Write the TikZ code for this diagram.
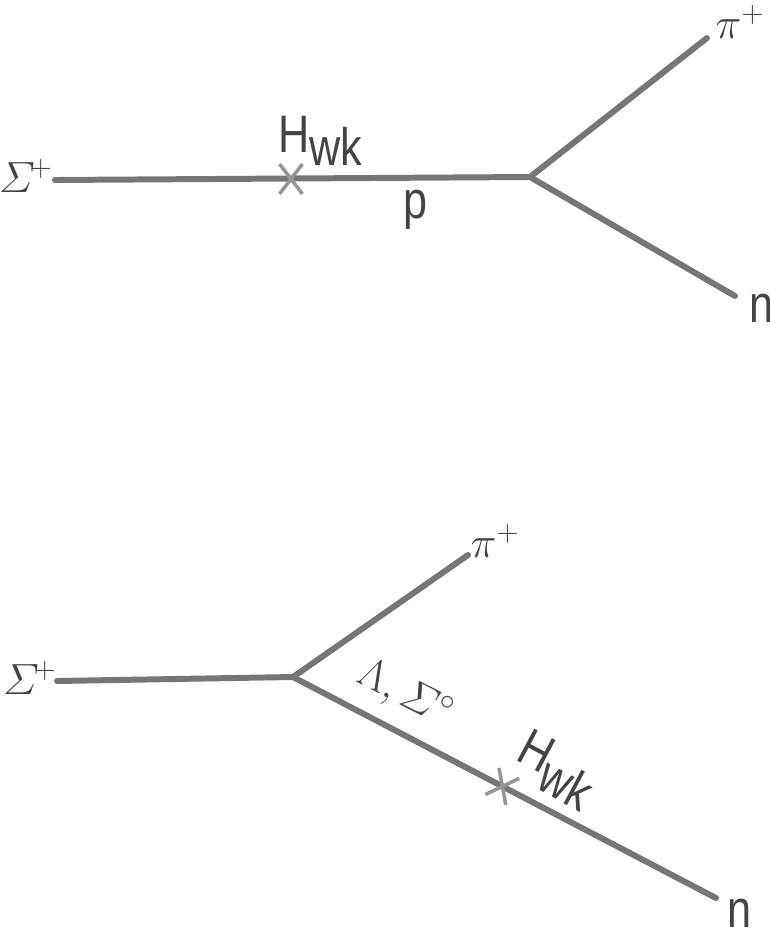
\documentclass[tikz,border=0pt]{standalone}
\usepackage{amsmath, amssymb}
\usepackage{fontspec}
\newfontfamily\labelfont[FakeStretch=0.82]{Liberation Sans}
\usepackage{tikz}
\usetikzlibrary{shapes.misc, calc}
\definecolor{lineGray}{RGB}{118, 118, 118}
\definecolor{inkGray}{RGB}{68, 68, 68}
\definecolor{markGray}{RGB}{150, 150, 150}

\begin{document}
\begin{tikzpicture}[x=0.02cm, y=-0.02cm,
    prop/.style={line width=3.4pt, lineGray, line cap=round},
    lbl/.style={inkGray, inner sep=0pt, font=\labelfont\fontsize{30}{32}\selectfont},
    mlbl/.style={inkGray, inner sep=0pt, font=\fontsize{24}{27}\selectfont},
    wkmark/.style={cross out, draw=markGray, line width=2pt, minimum width=11pt, minimum height=15pt, inner sep=0pt}]
  \useasboundingbox (0,0) rectangle (770,930);

  % upper graph: weak vertex on the incoming line
  \coordinate (inA) at (55,180);
  \coordinate (vA) at (530,177);
  \coordinate (piA) at (707,38);
  \coordinate (nA) at (735,296);
  \node[mlbl, anchor=east] (sigA) at (53,176) {$\varSigma^{\!+}$};
  \node[mlbl] (piLblA) at (740,22) {$\pi^{+}$};
  \node[lbl, anchor=base] (nLblA) at (762,322) {n};
  \node[lbl, anchor=base west] (hwkA) at (278,152) {H\raisebox{-7.5pt}{wk}};
  \node[lbl, anchor=base] (pLbl) at (416,218) {p};
  \draw[prop] (inA) -- (vA) -- (piA);
  \draw[prop] (vA) -- (nA);
  \node[wkmark] (markA) at (291,179) {};

  % lower graph: weak vertex on the outgoing line
  \coordinate (inB) at (57,681);
  \coordinate (vB) at (293,677);
  \coordinate (piB) at (468,555);
  \coordinate (nB) at (716,898);
  \coordinate (wB) at ($(vB)!0.495!(nB)$);
  \node[mlbl, anchor=east] (sigB) at (57,678) {$\varSigma^{\!+}$};
  \node[mlbl] (piLblB) at (495,541) {$\pi^{+}$};
  \node[lbl, anchor=base] (nLblB) at (740,927) {n};
  \node[mlbl, rotate=-27] (lamLbl) at (405,695) {$\Lambda,\varSigma^{\circ}$};
  \node[lbl, rotate=-28] (hwkB) at (556,770) {H\raisebox{-9pt}{wk}};
  \draw[prop] (inB) -- (vB) -- (piB);
  \draw[prop] (vB) -- (nB);
  \node[wkmark, rotate=-27] (markB) at (wB) {};
\end{tikzpicture}
\end{document}
